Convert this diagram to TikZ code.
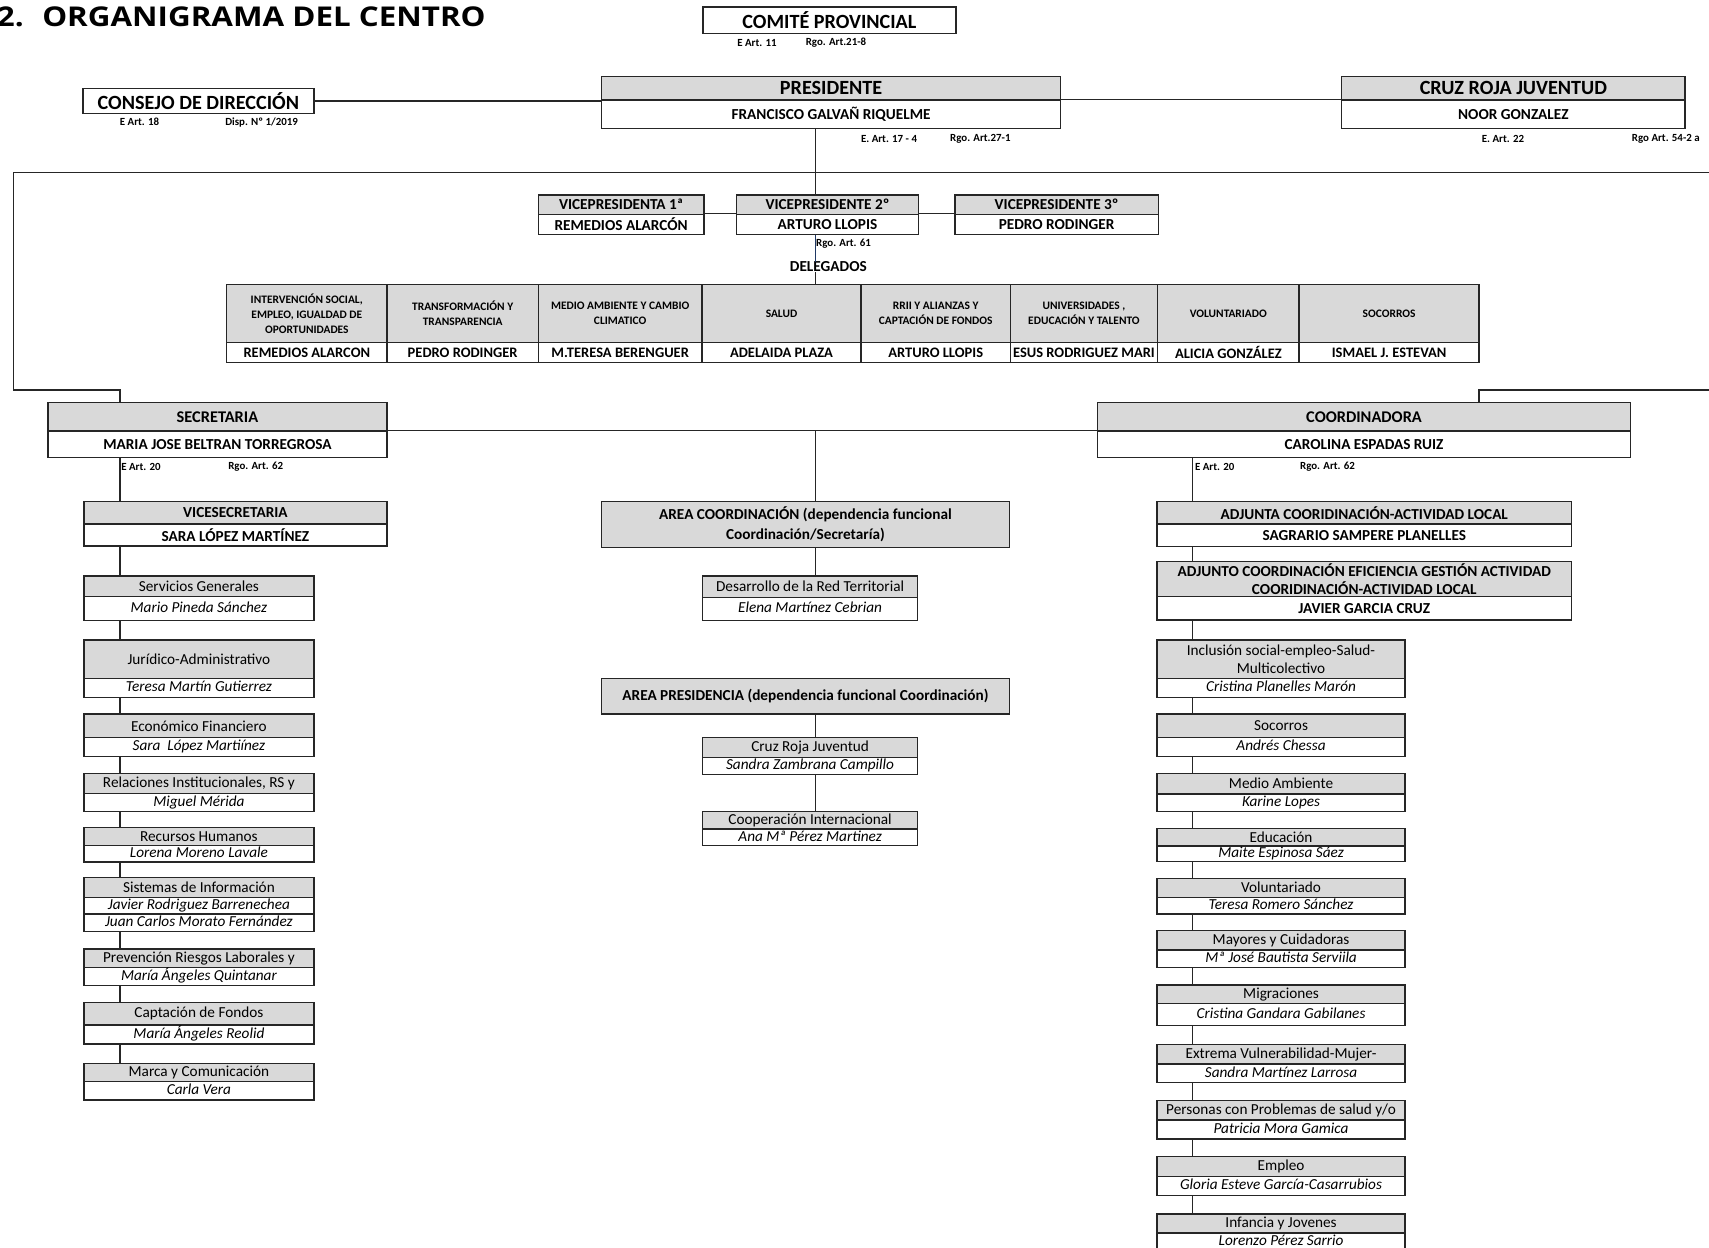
\documentclass[tikz,border=0pt]{standalone}
\usepackage{fontspec}
\setmainfont{Carlito}
\newfontfamily\titlefont[FakeStretch=1.15]{Open Sans}
\definecolor{hdgray}{HTML}{D9D9D9}
\definecolor{linec}{HTML}{262626}
\definecolor{delblue}{HTML}{1F3864}

\begin{document}
\begin{tikzpicture}[
    x=1pt, y=-1pt,
    every node/.style={inner sep=0pt, font=\fontsize{14}{16.5}\selectfont},
    cell/.style={draw=linec, line width=1.3pt},
    hd/.style={cell, fill=hdgray, align=center},
    nm/.style={cell, fill=white},
    big/.style={font=\bfseries\fontsize{18.5}{20}\selectfont},
    bhd/.style={hd, font=\bfseries\fontsize{14}{16.5}\selectfont},
    bnm/.style={nm, font=\bfseries\fontsize{14}{16.5}\selectfont},
    snm/.style={nm, text height=9.5pt, text depth=2.6pt, font=\itshape\fontsize{14}{16.5}\selectfont},
    dhd/.style={hd, font=\bfseries\fontsize{10.5}{13.8}\selectfont},
    dnm/.style={nm, font=\bfseries\fontsize{13.3}{15}\selectfont},
    note/.style={font=\bfseries\fontsize{10}{11}\selectfont},
    link/.style={draw=linec, line width=1.3pt},
    sz/.style 2 args={minimum width=#1, minimum height=#2}
]
    \useasboundingbox (0,0) rectangle (1568,1145);
    \clip (0,0) rectangle (1568,1145);

    % Title
    \node[anchor=west, font=\titlefont\bfseries\fontsize{25}{28}\selectfont] (title) at (-3,15.1) {2.\hspace{17pt}ORGANIGRAMA DEL CENTRO};

    % Top level
    \node[cell, big, sz={232}{24}] (comite) at (761,18.5) {COMITÉ PROVINCIAL};
    \node[note] (comiteE) at (694.5,39) {E Art. 11};
    \node[note] (comiteR) at (767,39) {Rgo. Art.21-8};

    \node[cell, big, sz={212}{23}] (consejo) at (182,92.5) {CONSEJO DE DIRECCIÓN};
    \node[note] (consejoE) at (128,112) {E Art. 18};
    \node[note] (consejoD) at (240,112) {Disp. Nº 1/2019};

    \node[hd, big, sz={421}{21.4}] (presh) at (762.5,81) {PRESIDENTE};
    \node[bnm, sz={421}{26}] (presn) at (762.5,104.7) {FRANCISCO GALVAÑ RIQUELME};
    \node[note] (presE) at (815.7,127.8) {E. Art. 17 - 4};
    \node[note] (presR) at (899.5,127.8) {Rgo. Art.27-1};

    \node[hd, big, sz={315}{21.4}] (crjh) at (1388.5,81) {CRUZ ROJA JUVENTUD};
    \node[bnm, sz={315}{26}] (crjn) at (1388.5,104.7) {NOOR GONZALEZ};
    \node[note] (crjE) at (1379,127.8) {E. Art. 22};
    \node[note] (crjR) at (1528.4,127.8) {Rgo Art. 54-2 a};

    % Vicepresidencias
    \node[bhd, sz={151.7}{17.7}] (vp1h) at (569.9,187.75) {VICEPRESIDENTA 1ª};
    \node[bnm, sz={151.7}{18.4}] (vp1n) at (569.9,205.8) {REMEDIOS ALARCÓN};
    \node[bhd, sz={166.5}{17.7}] (vp2h) at (759.2,187.75) {VICEPRESIDENTE 2º};
    \node[bnm, sz={166.5}{18.4}] (vp2n) at (759.2,205.8) {ARTURO LLOPIS};
    \node[bhd, sz={186.7}{17.7}] (vp3h) at (969.4,187.75) {VICEPRESIDENTE 3º};
    \node[bnm, sz={186.7}{18.4}] (vp3n) at (969.4,205.8) {PEDRO RODINGER};
    \node[note] (vp2R) at (774,224) {Rgo. Art. 61};
    \node[font=\bfseries\fontsize{14}{16.5}\selectfont] (deleg) at (760,245) {DELEGADOS};

    % Delegados
    \node[dhd, sz={147}{53.5}] (d1h) at (281.5,287.65) {INTERVENCIÓN SOCIAL,\\EMPLEO, IGUALDAD DE\\OPORTUNIDADES};
    \node[dnm, sz={147}{18}] (d1n) at (281.5,323.4) {REMEDIOS ALARCON};
    \node[dhd, sz={139}{53.5}] (d2h) at (424.5,287.65) {TRANSFORMACIÓN Y\\TRANSPARENCIA};
    \node[dnm, sz={139}{18}] (d2n) at (424.5,323.4) {PEDRO RODINGER};
    \node[dhd, sz={150}{53.5}] (d3h) at (569,287.65) {MEDIO AMBIENTE Y CAMBIO\\CLIMATICO};
    \node[dnm, sz={150}{18}] (d3n) at (569,323.4) {M.TERESA BERENGUER};
    \node[dhd, sz={146}{53.5}] (d4h) at (717,287.65) {SALUD};
    \node[dnm, sz={146}{18}] (d4n) at (717,323.4) {ADELAIDA PLAZA};
    \node[dhd, sz={137}{53.5}] (d5h) at (858.5,287.65) {RRII Y ALIANZAS Y\\CAPTACIÓN DE FONDOS};
    \node[dnm, sz={137}{18}] (d5n) at (858.5,323.4) {ARTURO LLOPIS};
    \node[dhd, sz={135}{53.5}] (d6h) at (994.5,287.65) {UNIVERSIDADES ,\\EDUCACIÓN Y TALENTO};
    \node[dnm, sz={135}{18}] (d6n) at (994.5,323.4) {ESUS RODRIGUEZ MARI};
    \node[dhd, sz={130}{53.5}] (d7h) at (1127,287.65) {VOLUNTARIADO};
    \node[dnm, sz={130}{18}] (d7n) at (1127,323.4) {ALICIA GONZÁLEZ};
    \node[dhd, sz={165}{53.5}] (d8h) at (1274.5,287.65) {SOCORROS};
    \node[dnm, sz={165}{18}] (d8n) at (1274.5,323.4) {ISMAEL J. ESTEVAN};

    % Secretaria and Coordinadora
    \node[hd, font=\bfseries\fontsize{15}{17}\selectfont, sz={311}{26}] (sech) at (199.5,382.4) {SECRETARIA};
    \node[bnm, sz={311}{24.2}] (secn) at (199.5,407.5) {MARIA JOSE BELTRAN TORREGROSA};
    \node[note] (secE) at (129.3,428.6) {E Art. 20};
    \node[note] (secR) at (234.6,428.6) {Rgo. Art. 62};

    \node[hd, font=\bfseries\fontsize{15}{17}\selectfont, sz={489}{26}] (cooh) at (1251.5,382.4) {COORDINADORA};
    \node[bnm, sz={489}{24.2}] (coon) at (1251.5,407.5) {CAROLINA ESPADAS RUIZ};
    \node[note] (cooE) at (1114.5,428.6) {E Art. 20};
    \node[note] (cooR) at (1218,428.6) {Rgo. Art. 62};

    % Secretaria column
    \node[bhd, sz={278}{20.5}] (vsh) at (216,470.45) {VICESECRETARIA};
    \node[bnm, sz={278}{20.2}] (vsn) at (216,490.8) {SARA LÓPEZ MARTÍNEZ};
    \node[hd, sz={211}{19}] (s1h) at (182.5,537.9) {Servicios Generales};
    \node[snm, sz={211}{22}] (s1n) at (182.5,558.4) {Mario Pineda Sánchez};
    \node[hd, sz={211}{35.1}] (s2h) at (182.5,604.75) {Jurídico-Administrativo};
    \node[snm, sz={211}{17.5}] (s2n) at (182.5,631.05) {Teresa Martín Gutierrez};
    \node[hd, sz={211}{21.7}] (s3h) at (182.5,665.95) {Económico Financiero};
    \node[snm, sz={211}{17.4}] (s3n) at (182.5,685.5) {Sara\ \ López Martiínez};
    \node[hd, sz={211}{18.3}] (s4h) at (182.5,718.65) {Relaciones Institucionales, RS y};
    \node[snm, sz={211}{16.8}] (s4n) at (182.5,736.2) {Miguel Mérida};
    \node[hd, sz={211}{16.5}] (s5h) at (182.5,767.55) {Recursos Humanos};
    \node[snm, sz={211}{15}] (s5n) at (182.5,783.3) {Lorena Moreno Lavale};
    \node[hd, sz={211}{18}] (s6h) at (182.5,814.2) {Sistemas de Información};
    \node[snm, sz={211}{15.3}] (s6n) at (182.5,830.85) {Javier Rodriguez Barrenechea};
    \node[snm, sz={211}{16.3}] (s6m) at (182.5,846.65) {Juan Carlos Morato Fernández};
    \node[hd, sz={211}{16.9}] (s7h) at (182.5,879.05) {Prevención Riesgos Laborales y};
    \node[snm, sz={211}{16.8}] (s7n) at (182.5,895.9) {María Ángeles Quintanar};
    \node[hd, sz={211}{20.5}] (s8h) at (182.5,930.15) {Captación de Fondos};
    \node[snm, sz={211}{17.4}] (s8n) at (182.5,949.1) {María Ángeles Reolid};
    \node[hd, sz={211}{16.9}] (s9h) at (182.5,983.95) {Marca y Comunicación};
    \node[snm, sz={211}{16.8}] (s9n) at (182.5,1000.8) {Carla Vera};

    % Middle column
    \node[bhd, font=\bfseries\fontsize{14}{18}\selectfont, sz={374}{41.9}] (areac) at (739,481.15) {AREA COORDINACIÓN (dependencia funcional\\Coordinación/Secretaría)};
    \node[hd, sz={197.5}{19.6}] (mdh) at (743.25,538.2) {Desarrollo de la Red Territorial};
    \node[snm, sz={197.5}{21.4}] (mdn) at (743.25,558.7) {Elena Martínez Cebrian};
    \node[bhd, sz={374}{32.8}] (areap) at (739,638.7) {AREA PRESIDENCIA (dependencia funcional Coordinación)};
    \node[hd, sz={197.5}{18}] (mch) at (743.25,685.8) {Cruz Roja Juventud};
    \node[snm, sz={197.5}{15.6}] (mcn) at (743.25,702.6) {Sandra Zambrana Campillo};
    \node[hd, sz={197.5}{16}] (mih) at (743.25,752.6) {Cooperación Internacional};
    \node[snm, sz={197.5}{15.2}] (mio) at (743.25,768.2) {Ana Mª Pérez Martinez};

    % Coordinadora column
    \node[bhd, sz={380}{20.5}] (ajah) at (1251.7,470.45) {ADJUNTA COORIDINACIÓN-ACTIVIDAD LOCAL};
    \node[bnm, sz={380}{20.6}] (ajan) at (1251.7,491) {SAGRARIO SAMPERE PLANELLES};
    \node[bhd, sz={380}{32.1}] (ajoh) at (1251.7,531.35) {ADJUNTO COORDINACIÓN EFICIENCIA GESTIÓN ACTIVIDAD\\COORIDINACIÓN-ACTIVIDAD LOCAL};
    \node[bnm, sz={380}{21.4}] (ajon) at (1251.7,558.1) {JAVIER GARCIA CRUZ};
    \node[hd, sz={227.7}{35.1}] (r1h) at (1175.35,604.75) {Inclusión social-empleo-Salud-\\Multicolectivo};
    \node[snm, sz={227.7}{17.5}] (r1n) at (1175.35,631.05) {Cristina Planelles Marón};
    \node[hd, sz={227.7}{21.7}] (r2h) at (1175.35,665.95) {Socorros};
    \node[snm, sz={227.7}{17.4}] (r2n) at (1175.35,685.5) {Andrés Chessa};
    \node[hd, sz={227.7}{18.9}] (r3h) at (1175.35,718.95) {Medio Ambiente};
    \node[snm, sz={227.7}{16.2}] (r3n) at (1175.35,736.5) {Karine Lopes};
    \node[hd, sz={227.7}{16.2}] (r4h) at (1175.35,768) {Educación};
    \node[snm, sz={227.7}{14.4}] (r4n) at (1175.35,783.3) {Maite Espinosa Sáez};
    \node[hd, sz={227.7}{17.4}] (r5h) at (1175.35,814.5) {Voluntariado};
    \node[snm, sz={227.7}{15.3}] (r5n) at (1175.35,830.85) {Teresa Romero Sánchez};
    \node[hd, sz={227.7}{17.8}] (r6h) at (1175.35,862.7) {Mayores y Cuidadoras};
    \node[snm, sz={227.7}{15.9}] (r6n) at (1175.35,879.55) {Mª José Bautista Serviila};
    \node[hd, sz={227.7}{16.8}] (r7h) at (1175.35,912.1) {Migraciones};
    \node[snm, sz={227.7}{20.5}] (r7n) at (1175.35,930.75) {Cristina Gandara Gabilanes};
    \node[hd, sz={227.7}{18}] (r8h) at (1175.35,967.1) {Extrema Vulnerabilidad-Mujer-};
    \node[snm, sz={227.7}{17.2}] (r8n) at (1175.35,984.7) {Sandra Martínez Larrosa};
    \node[hd, sz={227.7}{17.7}] (r9h) at (1175.35,1018.65) {Personas con Problemas de salud y/o};
    \node[snm, sz={227.7}{17.5}] (r9n) at (1175.35,1036.25) {Patricia Mora Gamica};
    \node[hd, sz={227.7}{18.3}] (r10h) at (1175.35,1070.35) {Empleo};
    \node[snm, sz={227.7}{17.5}] (r10n) at (1175.35,1088.25) {Gloria Esteve García-Casarrubios};
    \node[hd, sz={227.7}{17.5}] (r11h) at (1175.35,1122.75) {Infancia y Jovenes};
    \node[snm, sz={227.7}{15.5}] (r11n) at (1175.35,1139) {Lorenzo Pérez Sarrio};

    % Connectors
    \coordinate (lx) at (110,0);
    \coordinate (mx) at (748,0);
    \coordinate (rx) at (1094,0);
    \coordinate (sl) at (110,357.8);
    \coordinate (cl) at (12.6,158.4);
    \coordinate (cr) at (1610,357.8);
    \coordinate (cc) at (1357,357.8);

    \draw[link] (consejo.east) -- (consejo.east -| presn.west);
    \draw[link] (presn.north east) -- (crjn.north west);
    \draw[link] (presn.south -| mx) -- (vp2h.north -| mx);
    \draw[link] (vp1n.north east) -- (vp2n.north west);
    \draw[link] (vp2n.north east) -- (vp3n.north west);
    \draw[link, draw=delblue] (vp2n.south -| mx) -- (deleg.north -| mx);
    \draw[link] (deleg.south -| mx) -- (d4h.north -| mx);
    \draw[link] (sech.north -| sl) -- (sl) -| (cl) -| (cr) -- (cc) -- (cooh.north -| cc);
    \draw[link] (secn.north east) -- (coon.north west);
    \draw[link] (secn.north east -| mx) -- (areac.north -| mx);
    \draw[link] (areac.south -| mx) -- (mdh.north -| mx);
    \draw[link] (areap.south -| mx) -- (mch.north -| mx);
    \draw[link] (mcn.south -| mx) -- (mih.north -| mx);

    \draw[link] (secn.south -| lx) -- (vsh.north -| lx);
    \draw[link] (vsn.south -| lx) -- (s1h.north -| lx);
    \draw[link] (s1n.south -| lx) -- (s2h.north -| lx);
    \draw[link] (s2n.south -| lx) -- (s3h.north -| lx);
    \draw[link] (s3n.south -| lx) -- (s4h.north -| lx);
    \draw[link] (s4n.south -| lx) -- (s5h.north -| lx);
    \draw[link] (s5n.south -| lx) -- (s6h.north -| lx);
    \draw[link] (s6m.south -| lx) -- (s7h.north -| lx);
    \draw[link] (s7n.south -| lx) -- (s8h.north -| lx);
    \draw[link] (s8n.south -| lx) -- (s9h.north -| lx);

    \draw[link] (coon.south -| rx) -- (ajah.north -| rx);
    \draw[link] (ajan.south -| rx) -- (ajoh.north -| rx);
    \draw[link] (ajon.south -| rx) -- (r1h.north -| rx);
    \draw[link] (r1n.south -| rx) -- (r2h.north -| rx);
    \draw[link] (r2n.south -| rx) -- (r3h.north -| rx);
    \draw[link] (r3n.south -| rx) -- (r4h.north -| rx);
    \draw[link] (r4n.south -| rx) -- (r5h.north -| rx);
    \draw[link] (r5n.south -| rx) -- (r6h.north -| rx);
    \draw[link] (r6n.south -| rx) -- (r7h.north -| rx);
    \draw[link] (r7n.south -| rx) -- (r8h.north -| rx);
    \draw[link] (r8n.south -| rx) -- (r9h.north -| rx);
    \draw[link] (r9n.south -| rx) -- (r10h.north -| rx);
    \draw[link] (r10n.south -| rx) -- (r11h.north -| rx);
\end{tikzpicture}
\end{document}
